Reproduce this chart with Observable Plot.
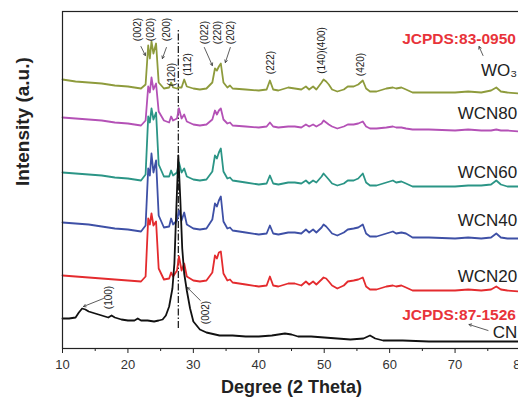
<!DOCTYPE html>
<html><head><meta charset="utf-8">
<script src="https://cdn.jsdelivr.net/npm/d3@7"></script>
<script src="https://cdn.jsdelivr.net/npm/@observablehq/plot@0.6"></script>
<style>
html,body{margin:0;padding:0;background:#fff;overflow:hidden;}
#chart svg{max-width:none !important;display:block;}
</style></head><body><div id="chart"></div>
<script>
// 2θ positions (degrees) shared by the W-containing patterns
const deg = [10,12,14,16,18,20,22,
  22.7,23.1,23.35,23.6,23.9,24.3,24.7,
  25.5,26.3,26.6,26.9,27.5,27.8,28.2,28.6,29.0,
  30,31,32,32.9,33.3,33.6,33.9,34.2,34.6,35.2,35.6,36,
  38,40,41.2,41.7,42.2,43,44.5,45.5,46.5,47.2,47.7,48.3,48.8,
  49.6,49.9,50.3,50.7,51.2,52,53,53.6,54.5,55.2,55.9,56.4,57,58,
  59.5,60.5,61,61.8,62.5,63.5,66,70,72,74,75.5,76.3,77,78,80];

// stacked intensities (a.u.)
const wo3 = [269,267,266,265,263,262,260,
  264,303,290,307,295,305,266,
  260,261,266,261,260,261,261,269,262,
  260,259,260,266,280,278,282,285,266,261,263,260,
  259,258,259,268,259,258,261,260,259,262,259,262,259,
  266,269,267,264,259,257,259,262,262,264,268,260,257,257,
  260,261,260,261,259,256,256,256,257,256,258,261,257,256,255];
const wcn80 = [231,230,229,228,226,225,223,
  228,262,256,271,259,265,237,
  228,226,232,228,230,240,230,234,227,
  224,223,224,229,238,234,238,240,229,225,226,223,
  222,221,222,226,222,221,222,222,221,224,222,224,222,
  225,228,226,224,222,220,222,224,224,225,227,222,220,220,
  221,222,221,221,220,219,219,218,219,218,218,219,218,218,217];
const wcn60 = [176,175,174,173,171,170,168,
  174,232,226,240,229,236,184,
  172,172,178,173,176,186,176,180,172,
  169,168,169,177,193,190,196,200,177,170,171,168,
  166,164,165,173,165,164,166,166,165,168,165,168,166,
  172,175,172,169,165,163,165,168,168,170,175,166,163,163,
  166,168,166,167,165,162,162,162,163,163,164,168,164,162,162];
const wcn40 = [126,125,124,122,120,119,117,
  123,180,173,195,176,188,133,
  121,122,130,124,128,138,128,136,124,
  120,119,120,129,145,142,148,152,127,120,121,118,
  116,114,115,123,115,114,116,116,115,119,116,119,116,
  121,124,122,119,115,113,116,119,120,121,124,115,112,112,
  115,117,115,116,115,111,111,110,111,110,111,115,111,110,110];
const wcn20 = [73,72,71,70,69,68,67,
  72,130,124,135,123,127,80,
  69,70,76,72,78,92,78,85,72,
  68,67,68,76,93,90,96,97,75,68,69,66,
  64,62,63,72,63,62,65,65,63,67,64,67,64,
  69,71,70,67,63,60,63,67,68,69,71,62,59,59,
  62,63,62,63,61,58,58,58,59,58,59,62,59,58,57];

// g-C3N4 pattern
const cnDeg = [10,11,12,12.5,13,13.5,14,15,16,17,17.5,18,19,20,21,21.5,22,23,24,24.7,
  25.3,25.8,26.3,26.8,27.1,27.4,27.7,28.0,28.3,28.6,29,29.5,30,31,32,34,36,38,40,42,
  44,45,46,48,50,52,54,56,57,57.8,59,62,66,70,74,78,80];
const cnVal = [30,30,31,36,40,39,37,35,33,31,33,31,29,28,28,30,28,28,27,28,
  29,33,42,60,85,140,193,150,100,75,58,40,27,19,16,13,13,12,12,13,
  15,14,12,12,11,10,9,10,13,10,8,8,7,7,7,7,7];

const seriesNames = ["WCN20","WCN40","WCN60","WCN80","WO3"];
const seriesValues = [wcn20, wcn40, wcn60, wcn80, wo3];
const seriesColors = ["#e42b2e","#3e50a6","#2b9586","#b451b6","#8e9b3c"];

const xTicks = [10,20,30,40,50,60,70,80];
const xMinorTicks = [15,25,35,45,55,65,75];

// annotations
const sampleLabels = ["WO₃","WCN80","WCN60","WCN40","WCN20","CN"];
const sampleLabelDeg = [79.5,79.5,79.5,79.5,79.5,79.5];
const sampleLabelInt = [278,235,176,128,72,16];

const cardLabels = ["JCPDS:83-0950","JCPDS:87-1526"];
const cardDeg = [79.3,79.3];
const cardInt = [309,33];

const hklLabels = ["(002)","(020)","(200)","(120)","(112)","(022)","(220)","(202)","(222)","(140)(400)","(420)","(100)","(002)"];
const hklDeg = [21.53,23.44,25.88,26.75,29.13,31.68,33.71,35.65,41.76,49.69,55.65,17.02,31.83];
const hklInt = [319,319,319,274,284,316,316,316,286,298,284,51,36];

const arrows = [
  {x1:21.99,y1:302,x2:22.67,y2:293},
  {x1:25.88,y1:301,x2:25.27,y2:290},
  {x1:31.68,y1:301,x2:32.9,y2:283},
  {x1:35.65,y1:301,x2:34.89,y2:286},
  {x1:74.27,y1:293,x2:73.66,y2:302},
  {x1:75.04,y1:18,x2:72.14,y2:24},
  {x1:16.26,y1:50,x2:13.21,y2:42},
  {x1:31.07,y1:48,x2:29.08,y2:61}
];
const refLineDeg = 27.7;
const refLineSpan = [20,318];

const lineMarks = seriesNames.map((name,i) =>
  Plot.line(deg.map((d,j)=>({x:d, y:seriesValues[i][j]})), {x:"x", y:"y", stroke: seriesColors[i], strokeWidth: 1.8, strokeLinejoin: "round"})
);

const plot = Plot.plot({
  width: 521, height: 404,
  marginTop: 11, marginBottom: 56, marginLeft: 62, marginRight: 1,
  style: {fontFamily: "'Liberation Sans', Arial, sans-serif", background: "white", color: "#222", maxWidth: "none", overflow: "visible"},
  x: {domain: [10,80]},
  y: {domain: [0,337], axis: null},
  marks: [
    Plot.axisX({ticks: xTicks, tickSize: 5, tickPadding: 6, fontSize: 13, label: null, fill: "#333"}),
    Plot.axisX({ticks: xMinorTicks, tickSize: 3, tickFormat: () => "", label: null}),
    Plot.ruleX([refLineDeg], {y1: refLineSpan[0], y2: refLineSpan[1], stroke: "#111", strokeWidth: 1.2, strokeDasharray: "7,2,1.5,2"}),
    ...lineMarks,
    Plot.line(cnDeg.map((d,j)=>({x:d, y:cnVal[j]})), {x:"x", y:"y", stroke: "#111", strokeWidth: 1.8, strokeLinejoin: "round"}),
    Plot.arrow(arrows, {x1:"x1", y1:"y1", x2:"x2", y2:"y2", stroke:"#333", strokeWidth: 0.8, headLength: 5}),
    Plot.text(hklLabels, {x:(d,i)=>hklDeg[i], y:(d,i)=>hklInt[i], text: d=>d, rotate: -90, fontSize: 10, fill: "#222"}),
    Plot.text(sampleLabels, {x:(d,i)=>sampleLabelDeg[i], y:(d,i)=>sampleLabelInt[i], text: d=>d, textAnchor: "end", fontSize: 17, fill: "#222"}),
    Plot.text(cardLabels, {x:(d,i)=>cardDeg[i], y:(d,i)=>cardInt[i], text: d=>d, textAnchor: "end", fontSize: 15.5, fontWeight: "bold", fill: "#e8333a"}),
    Plot.text(["Intensity (a.u.)"], {frameAnchor: "left", text: d=>d, rotate: -90, dx: -40, dy: 6, fontSize: 19, fontWeight: "bold", fill: "#222"}),
    Plot.text(["Degree (2 Theta)"], {frameAnchor: "bottom", text: d=>d, dy: 44, fontSize: 18, fontWeight: "bold", fill: "#222"}),
    Plot.frame({stroke: "#222", strokeWidth: 1.2})
  ]
});
document.getElementById("chart").appendChild(plot);
</script></body></html>
